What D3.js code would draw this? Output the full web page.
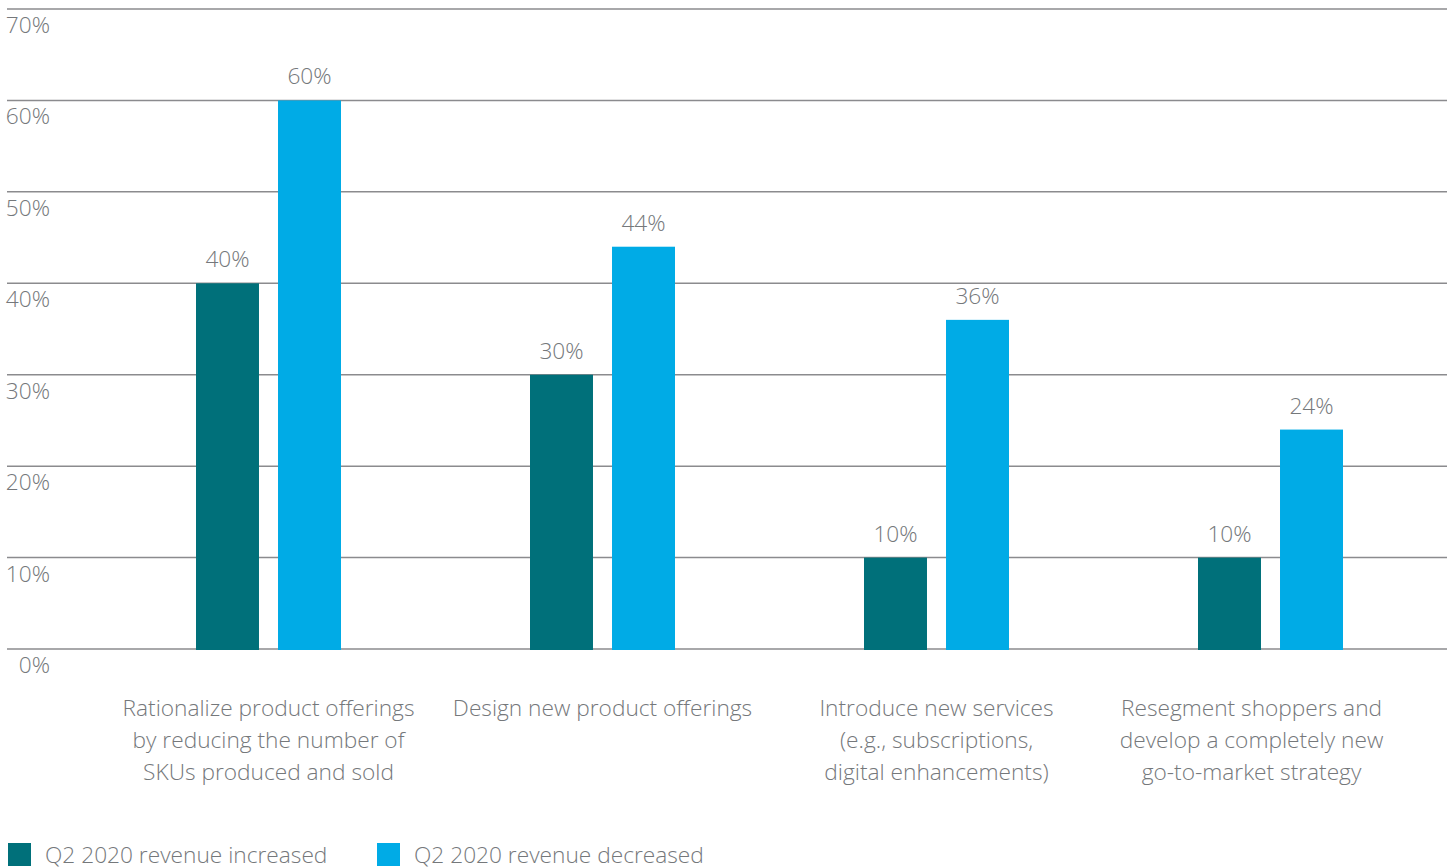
<!DOCTYPE html>
<html lang="en">
<head>
    <meta charset="UTF-8">
    <title>Product strategy by revenue change</title>
    <script src="https://d3js.org/d3.v7.min.js"></script>
    <style>
        body { margin: 0; background: #fff; overflow: hidden; }
        svg { display: block; font-family: "Open Sans", sans-serif; font-weight: 300; }
        .grid line { stroke: #8b8b8e; stroke-width: 1.5; }
        .tick-label, .value-label, .cat-label, .legend-label { fill: #75787b; font-size: 22.7px; }
    </style>
</head>
<body>
    <div id="chart"></div>
    <script>
        const width = 1453;
        const height = 867;

        // data
        const categories = [
            ["Rationalize product offerings", "by reducing the number of", "SKUs produced and sold"],
            ["Design new product offerings"],
            ["Introduce new services", "(e.g., subscriptions,", "digital enhancements)"],
            ["Resegment shoppers and", "develop a completely new", "go-to-market strategy"]
        ];
        const seriesNames = ["Q2 2020 revenue increased", "Q2 2020 revenue decreased"];
        const increased = [40, 30, 10, 10];
        const decreased = [60, 44, 36, 24];
        const yTicks = [0, 10, 20, 30, 40, 50, 60, 70];
        const colors = ["#00707a", "#00abe6"];

        const svg = d3.select("#chart").append("svg")
            .attr("width", width)
            .attr("height", height);

        const y = d3.scaleLinear().domain([0, 70]).range([649, 9]);

        const x0 = d3.scaleBand()
            .domain(d3.range(categories.length))
            .range([101.5, 1437.5]);

        const x1 = d3.scaleBand()
            .domain([0, 1])
            .range([-72.5, 72.5])
            .paddingInner(0.232);

        // gridlines + tick labels
        const grid = svg.append("g").attr("class", "grid");
        grid.selectAll("line")
            .data(yTicks)
            .enter().append("line")
            .attr("x1", 7).attr("x2", 1447)
            .attr("y1", d => y(d)).attr("y2", d => y(d));

        svg.selectAll(".tick-label")
            .data(yTicks)
            .enter().append("text")
            .attr("class", "tick-label")
            .attr("x", 50)
            .attr("y", d => y(d) + 24)
            .attr("text-anchor", "end")
            .text(d => d + "%");

        // bars
        const rows = categories.map((c, i) => [increased[i], decreased[i]]);

        const groups = svg.selectAll(".group")
            .data(rows)
            .enter().append("g")
            .attr("class", "group")
            .attr("transform", (d, i) => `translate(${x0(i) + x0.bandwidth() / 2},0)`);

        groups.selectAll("rect")
            .data(d => d)
            .enter().append("rect")
            .attr("x", (d, j) => x1(j))
            .attr("width", x1.bandwidth())
            .attr("y", d => y(d))
            .attr("height", d => y(0) - y(d) + 1)
            .attr("fill", (d, j) => colors[j]);

        groups.selectAll(".value-label")
            .data(d => d)
            .enter().append("text")
            .attr("class", "value-label")
            .attr("x", (d, j) => x1(j) + x1.bandwidth() / 2)
            .attr("y", d => y(d) - 16)
            .attr("text-anchor", "middle")
            .text(d => d + "%");

        // category labels
        svg.selectAll(".cat-label")
            .data(categories)
            .enter().append("text")
            .attr("class", "cat-label")
            .attr("text-anchor", "middle")
            .attr("transform", (d, i) => `translate(${x0(i) + x0.bandwidth() / 2 - (i === 3 ? 19 : 0)},716)`)
            .selectAll("tspan")
            .data(d => d)
            .enter().append("tspan")
            .attr("x", 0)
            .attr("y", (d, k) => k * 32)
            .text(d => d);

        // legend
        const legendX = [8, 377];
        const legend = svg.selectAll(".legend")
            .data(seriesNames)
            .enter().append("g")
            .attr("class", "legend")
            .attr("transform", (d, i) => `translate(${legendX[i]},843)`);

        legend.append("rect")
            .attr("width", 23).attr("height", 23)
            .attr("fill", (d, i) => colors[i]);

        legend.append("text")
            .attr("class", "legend-label")
            .attr("x", 37)
            .attr("y", 20)
            .text(d => d);
    </script>
</body>
</html>
